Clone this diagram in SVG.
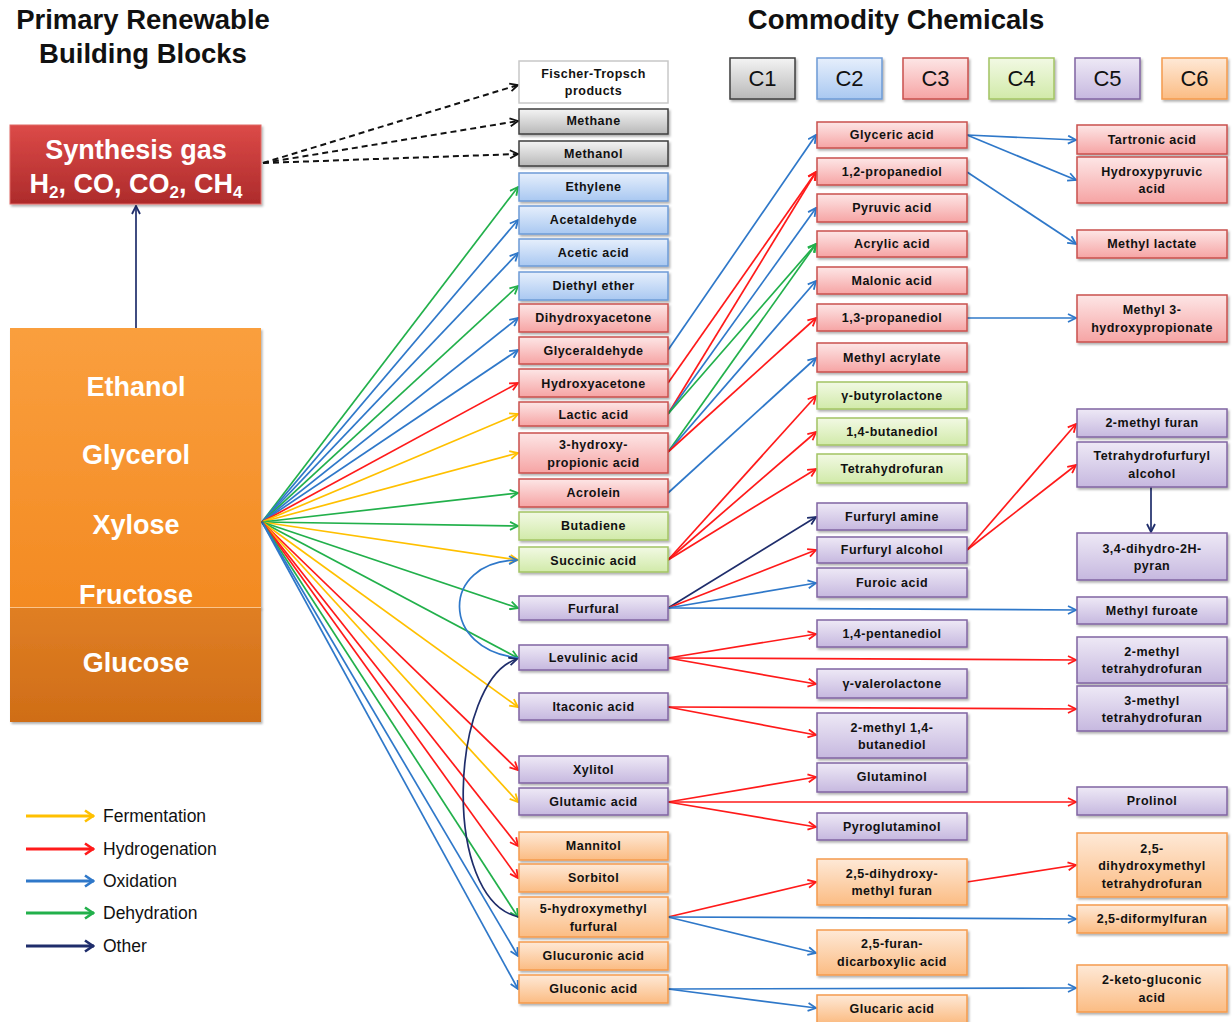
<svg xmlns="http://www.w3.org/2000/svg" width="1232" height="1022" viewBox="0 0 1232 1022">
<style>
.t{font-family:"Liberation Sans",Arial,sans-serif;font-weight:bold;font-size:12.5px;fill:#111;text-anchor:middle;letter-spacing:0.5px}
.title{font-family:"Liberation Sans",Arial,sans-serif;font-weight:bold;font-size:27.5px;fill:#111;text-anchor:middle}
.big{font-family:"Liberation Sans",Arial,sans-serif;font-weight:bold;font-size:27px;fill:#fff;text-anchor:middle}
.cl{font-family:"Liberation Sans",Arial,sans-serif;font-size:22px;fill:#111;text-anchor:middle}
.lg{font-family:"Liberation Sans",Arial,sans-serif;font-size:17.5px;fill:#111}
.b{stroke-width:1.5}
.gray{fill:url(#gGray);stroke:#3f3f3f}
.white{fill:#fff;stroke:#c8c8c8}
.blue{fill:url(#gBlue);stroke:#6d9bd6}
.pink{fill:url(#gPink);stroke:#c9504d}
.green{fill:url(#gGreen);stroke:#a3c463}
.purple{fill:url(#gPurple);stroke:#8064a2}
.orange{fill:url(#gOrange);stroke:#f59b4d}
.c{fill:none;stroke-width:1.7}
.lgc{fill:none;stroke-width:3}
.cy{stroke:#ffc000;marker-end:url(#mY)}
.cr{stroke:#ff1a1a;marker-end:url(#mR)}
.cb{stroke:#2f78c9;marker-end:url(#mB)}
.cg{stroke:#22b04b;marker-end:url(#mG)}
.cn{stroke:#1f2d6b;marker-end:url(#mN)}
.cd{stroke:#111;stroke-dasharray:6,4;stroke-width:2;marker-end:url(#mK)}
</style>
<defs>
<linearGradient id="gGray" x1="0" y1="0" x2="0" y2="1"><stop offset="0" stop-color="#f4f4f4"/><stop offset="1" stop-color="#b8b8b8"/></linearGradient>
<linearGradient id="gBlue" x1="0" y1="0" x2="0" y2="1"><stop offset="0" stop-color="#e6effc"/><stop offset="1" stop-color="#a9c8f1"/></linearGradient>
<linearGradient id="gPink" x1="0" y1="0" x2="0" y2="1"><stop offset="0" stop-color="#fde6e6"/><stop offset="1" stop-color="#f6a4a4"/></linearGradient>
<linearGradient id="gGreen" x1="0" y1="0" x2="0" y2="1"><stop offset="0" stop-color="#f2f9e4"/><stop offset="1" stop-color="#d1eaa9"/></linearGradient>
<linearGradient id="gPurple" x1="0" y1="0" x2="0" y2="1"><stop offset="0" stop-color="#eee9f6"/><stop offset="1" stop-color="#c6b8df"/></linearGradient>
<linearGradient id="gOrange" x1="0" y1="0" x2="0" y2="1"><stop offset="0" stop-color="#fee9d7"/><stop offset="1" stop-color="#fbbc83"/></linearGradient>
<linearGradient id="gSyn" x1="0" y1="0" x2="0" y2="1"><stop offset="0" stop-color="#dc4a48"/><stop offset="1" stop-color="#ad2b2b"/></linearGradient>
<linearGradient id="gOr1" x1="0" y1="0" x2="0" y2="1"><stop offset="0" stop-color="#fa9f3e"/><stop offset="1" stop-color="#f38a22"/></linearGradient>
<linearGradient id="gOr2" x1="0" y1="0" x2="0" y2="1"><stop offset="0" stop-color="#e07f24"/><stop offset="1" stop-color="#cf6d17"/></linearGradient>
<filter id="sh" x="-5%" y="-10%" width="115%" height="130%"><feDropShadow dx="1.5" dy="2" stdDeviation="1.2" flood-color="#000" flood-opacity="0.3"/></filter>
<marker id="mY" viewBox="0 0 10 10" refX="9" refY="5" markerWidth="10" markerHeight="10" markerUnits="userSpaceOnUse" orient="auto"><path d="M1,1 L9,5 L1,9" fill="none" stroke="#ffc000" stroke-width="1.8"/></marker>
<marker id="mR" viewBox="0 0 10 10" refX="9" refY="5" markerWidth="10" markerHeight="10" markerUnits="userSpaceOnUse" orient="auto"><path d="M1,1 L9,5 L1,9" fill="none" stroke="#ff1a1a" stroke-width="1.8"/></marker>
<marker id="mB" viewBox="0 0 10 10" refX="9" refY="5" markerWidth="10" markerHeight="10" markerUnits="userSpaceOnUse" orient="auto"><path d="M1,1 L9,5 L1,9" fill="none" stroke="#2f78c9" stroke-width="1.8"/></marker>
<marker id="mG" viewBox="0 0 10 10" refX="9" refY="5" markerWidth="10" markerHeight="10" markerUnits="userSpaceOnUse" orient="auto"><path d="M1,1 L9,5 L1,9" fill="none" stroke="#22b04b" stroke-width="1.8"/></marker>
<marker id="mN" viewBox="0 0 10 10" refX="9" refY="5" markerWidth="10" markerHeight="10" markerUnits="userSpaceOnUse" orient="auto"><path d="M1,1 L9,5 L1,9" fill="none" stroke="#1f2d6b" stroke-width="1.8"/></marker>
<marker id="mK" viewBox="0 0 10 10" refX="9" refY="5" markerWidth="10" markerHeight="10" markerUnits="userSpaceOnUse" orient="auto"><path d="M1,1 L9,5 L1,9" fill="none" stroke="#111" stroke-width="1.8"/></marker>
<marker id="LY" viewBox="0 0 12 14" refX="11" refY="7" markerWidth="12" markerHeight="14" markerUnits="userSpaceOnUse" orient="auto"><path d="M2,1.5 L10,7 L2,12.5" fill="none" stroke="#ffc000" stroke-width="2.6"/></marker>
<marker id="LR" viewBox="0 0 12 14" refX="11" refY="7" markerWidth="12" markerHeight="14" markerUnits="userSpaceOnUse" orient="auto"><path d="M2,1.5 L10,7 L2,12.5" fill="none" stroke="#ff1a1a" stroke-width="2.6"/></marker>
<marker id="LB" viewBox="0 0 12 14" refX="11" refY="7" markerWidth="12" markerHeight="14" markerUnits="userSpaceOnUse" orient="auto"><path d="M2,1.5 L10,7 L2,12.5" fill="none" stroke="#2f78c9" stroke-width="2.6"/></marker>
<marker id="LG" viewBox="0 0 12 14" refX="11" refY="7" markerWidth="12" markerHeight="14" markerUnits="userSpaceOnUse" orient="auto"><path d="M2,1.5 L10,7 L2,12.5" fill="none" stroke="#22b04b" stroke-width="2.6"/></marker>
<marker id="LN" viewBox="0 0 12 14" refX="11" refY="7" markerWidth="12" markerHeight="14" markerUnits="userSpaceOnUse" orient="auto"><path d="M2,1.5 L10,7 L2,12.5" fill="none" stroke="#1f2d6b" stroke-width="2.6"/></marker>
</defs>
<rect width="1232" height="1022" fill="#fff"/>

<text class="title" x="143" y="29">Primary Renewable</text>
<text class="title" x="143" y="63">Building Blocks</text>
<text class="title" x="896" y="29">Commodity Chemicals</text>

<g id="c-labels">
<g id="C1"><rect class="gray b" x="730" y="58" width="65" height="41" filter="url(#sh)"/><text class="cl" x="762.5" y="86">C1</text></g>
<g id="C2"><rect class="blue b" x="817" y="58" width="65" height="41" filter="url(#sh)"/><text class="cl" x="849.5" y="86">C2</text></g>
<g id="C3"><rect class="pink b" x="903" y="58" width="65" height="41" filter="url(#sh)"/><text class="cl" x="935.5" y="86">C3</text></g>
<g id="C4"><rect class="green b" x="989" y="58" width="65" height="41" filter="url(#sh)"/><text class="cl" x="1021.5" y="86">C4</text></g>
<g id="C5"><rect class="purple b" x="1075" y="58" width="65" height="41" filter="url(#sh)"/><text class="cl" x="1107.5" y="86">C5</text></g>
<g id="C6"><rect class="orange b" x="1162" y="58" width="65" height="41" filter="url(#sh)"/><text class="cl" x="1194.5" y="86">C6</text></g>
</g>

<g id="connectors">
<path class="c cn" d="M136,328 L136,206"/>
<path class="cd" fill="none" d="M263,163 L518,85"/>
<path class="cd" fill="none" d="M263,163 L518,121"/>
<path class="cd" fill="none" d="M263,163 L518,154"/>
<path class="c cg" d="M262,522 L518,187"/>
<path class="c cb" d="M262,522 L518,220"/>
<path class="c cb" d="M262,522 L518,253"/>
<path class="c cg" d="M262,522 L518,286"/>
<path class="c cb" d="M262,522 L518,318"/>
<path class="c cb" d="M262,522 L518,350"/>
<path class="c cr" d="M262,522 L518,383"/>
<path class="c cy" d="M262,522 L518,414"/>
<path class="c cy" d="M262,522 L518,453"/>
<path class="c cg" d="M262,522 L518,493"/>
<path class="c cg" d="M262,522 L518,526"/>
<path class="c cy" d="M262,522 L518,560"/>
<path class="c cg" d="M262,522 L518,608"/>
<path class="c cg" d="M262,522 L518,658"/>
<path class="c cy" d="M262,522 L518,707"/>
<path class="c cr" d="M262,522 L518,770"/>
<path class="c cy" d="M262,522 L518,802"/>
<path class="c cr" d="M262,522 L518,846"/>
<path class="c cr" d="M262,522 L518,878"/>
<path class="c cg" d="M262,522 L518,917"/>
<path class="c cb" d="M262,522 L518,956"/>
<path class="c cb" d="M262,522 L518,989"/>
<path class="c cb" d="M519,658 C440,650 440,562 517,560"/>
<path class="c cn" d="M519,917 C440,900 450,680 517,659"/>
<path class="c cb" d="M668,350 L816,135"/>
<path class="c cr" d="M668,383 L816,172"/>
<path class="c cr" d="M668,414 L816,172"/>
<path class="c cb" d="M668,414 L816,208"/>
<path class="c cg" d="M668,414 L816,244"/>
<path class="c cg" d="M668,452 L816,244"/>
<path class="c cb" d="M668,452 L816,281"/>
<path class="c cr" d="M668,452 L816,318"/>
<path class="c cb" d="M668,493 L816,358"/>
<path class="c cr" d="M668,560 L816,396"/>
<path class="c cr" d="M668,560 L816,432"/>
<path class="c cr" d="M668,560 L816,469"/>
<path class="c cn" d="M668,608 L816,517"/>
<path class="c cr" d="M668,608 L816,550"/>
<path class="c cb" d="M668,608 L816,583"/>
<path class="c cb" d="M668,608 L1076,610"/>
<path class="c cr" d="M668,658 L816,634"/>
<path class="c cr" d="M668,658 L1076,660"/>
<path class="c cr" d="M668,658 L816,684"/>
<path class="c cr" d="M668,707 L1076,709"/>
<path class="c cr" d="M668,707 L816,735"/>
<path class="c cr" d="M668,802 L816,777"/>
<path class="c cr" d="M668,802 L1076,802"/>
<path class="c cr" d="M668,802 L816,827"/>
<path class="c cr" d="M668,917 L816,882"/>
<path class="c cb" d="M668,917 L1076,919"/>
<path class="c cb" d="M668,917 L816,953"/>
<path class="c cb" d="M668,989 L1076,988"/>
<path class="c cb" d="M668,989 L816,1008"/>
<path class="c cb" d="M967,135 L1076,140"/>
<path class="c cb" d="M967,135 L1076,180"/>
<path class="c cb" d="M967,172 L1076,244"/>
<path class="c cb" d="M967,318 L1076,318"/>
<path class="c cr" d="M967,550 L1076,424"/>
<path class="c cr" d="M967,550 L1076,465"/>
<path class="c cn" d="M1151,487 L1151,532"/>
<path class="c cr" d="M967,882 L1076,865"/>
</g>

<g id="syngas"><rect x="10" y="125" width="251" height="79" fill="url(#gSyn)" stroke="#e06a66" stroke-width="1" filter="url(#sh)"/>
<text class="big" x="136" y="159">Synthesis gas</text>
<text class="big" x="136" y="193">H<tspan font-size="17" dy="5">2</tspan><tspan dy="-5">, CO, CO</tspan><tspan font-size="17" dy="5">2</tspan><tspan dy="-5">, CH</tspan><tspan font-size="17" dy="5">4</tspan></text></g>

<g id="building-blocks">
<rect x="10" y="328" width="251" height="280" fill="url(#gOr1)" filter="url(#sh)"/>
<rect x="10" y="607" width="251" height="115" fill="url(#gOr2)" filter="url(#sh)"/>
<line x1="10" y1="607.5" x2="261" y2="607.5" stroke="#fbc48a" stroke-width="1"/>
<text class="big" x="136" y="396">Ethanol</text>
<text class="big" x="136" y="464">Glycerol</text>
<text class="big" x="136" y="534">Xylose</text>
<text class="big" x="136" y="604">Fructose</text>
<text class="big" x="136" y="672">Glucose</text>
</g>

<g id="col1">
<g id="n-ft"><rect class="white b" x="519" y="61" width="149" height="42"/><text class="t" x="593.5" y="78">Fischer-Tropsch</text><text class="t" x="593.5" y="95">products</text></g>
<g id="n-methane"><rect class="gray b" x="519" y="109" width="149" height="25" filter="url(#sh)"/><text class="t" x="593.5" y="125">Methane</text></g>
<g id="n-methanol"><rect class="gray b" x="519" y="141" width="149" height="25" filter="url(#sh)"/><text class="t" x="593.5" y="158">Methanol</text></g>
<g id="n-ethylene"><rect class="blue b" x="519" y="173" width="149" height="28" filter="url(#sh)"/><text class="t" x="593.5" y="191">Ethylene</text></g>
<g id="n-acetaldehyde"><rect class="blue b" x="519" y="206" width="149" height="28" filter="url(#sh)"/><text class="t" x="593.5" y="224">Acetaldehyde</text></g>
<g id="n-aceticacid"><rect class="blue b" x="519" y="239" width="149" height="27" filter="url(#sh)"/><text class="t" x="593.5" y="257">Acetic acid</text></g>
<g id="n-diethylether"><rect class="blue b" x="519" y="272" width="149" height="28" filter="url(#sh)"/><text class="t" x="593.5" y="290">Diethyl ether</text></g>
<g id="n-dha"><rect class="pink b" x="519" y="304" width="149" height="28" filter="url(#sh)"/><text class="t" x="593.5" y="322">Dihydroxyacetone</text></g>
<g id="n-glyceraldehyde"><rect class="pink b" x="519" y="337" width="149" height="27" filter="url(#sh)"/><text class="t" x="593.5" y="355">Glyceraldehyde</text></g>
<g id="n-hydroxyacetone"><rect class="pink b" x="519" y="369" width="149" height="28" filter="url(#sh)"/><text class="t" x="593.5" y="388">Hydroxyacetone</text></g>
<g id="n-lactic"><rect class="pink b" x="519" y="402" width="149" height="24" filter="url(#sh)"/><text class="t" x="593.5" y="419">Lactic acid</text></g>
<g id="n-3hpa"><rect class="pink b" x="519" y="433" width="149" height="40" filter="url(#sh)"/><text class="t" x="593.5" y="449">3-hydroxy-</text><text class="t" x="593.5" y="467">propionic acid</text></g>
<g id="n-acrolein"><rect class="pink b" x="519" y="479" width="149" height="28" filter="url(#sh)"/><text class="t" x="593.5" y="497">Acrolein</text></g>
<g id="n-butadiene"><rect class="green b" x="519" y="512" width="149" height="28" filter="url(#sh)"/><text class="t" x="593.5" y="530">Butadiene</text></g>
<g id="n-succinic"><rect class="green b" x="519" y="547" width="149" height="25" filter="url(#sh)"/><text class="t" x="593.5" y="565">Succinic acid</text></g>
<g id="n-furfural"><rect class="purple b" x="519" y="596" width="149" height="24" filter="url(#sh)"/><text class="t" x="593.5" y="613">Furfural</text></g>
<g id="n-levulinic"><rect class="purple b" x="519" y="645" width="149" height="25" filter="url(#sh)"/><text class="t" x="593.5" y="662">Levulinic acid</text></g>
<g id="n-itaconic"><rect class="purple b" x="519" y="693" width="149" height="27" filter="url(#sh)"/><text class="t" x="593.5" y="711">Itaconic acid</text></g>
<g id="n-xylitol"><rect class="purple b" x="519" y="756" width="149" height="27" filter="url(#sh)"/><text class="t" x="593.5" y="774">Xylitol</text></g>
<g id="n-glutamic"><rect class="purple b" x="519" y="788" width="149" height="27" filter="url(#sh)"/><text class="t" x="593.5" y="806">Glutamic acid</text></g>
<g id="n-mannitol"><rect class="orange b" x="519" y="832" width="149" height="28" filter="url(#sh)"/><text class="t" x="593.5" y="850">Mannitol</text></g>
<g id="n-sorbitol"><rect class="orange b" x="519" y="864" width="149" height="28" filter="url(#sh)"/><text class="t" x="593.5" y="882">Sorbitol</text></g>
<g id="n-hmf"><rect class="orange b" x="519" y="897" width="149" height="40" filter="url(#sh)"/><text class="t" x="593.5" y="913">5-hydroxymethyl</text><text class="t" x="593.5" y="931">furfural</text></g>
<g id="n-glucuronic"><rect class="orange b" x="519" y="942" width="149" height="28" filter="url(#sh)"/><text class="t" x="593.5" y="960">Glucuronic acid</text></g>
<g id="n-gluconic"><rect class="orange b" x="519" y="975" width="149" height="28" filter="url(#sh)"/><text class="t" x="593.5" y="993">Gluconic acid</text></g>
</g>

<g id="col2">
<g id="n-glyceric"><rect class="pink b" x="817" y="122" width="150" height="26" filter="url(#sh)"/><text class="t" x="892" y="139">Glyceric acid</text></g>
<g id="n-12pdo"><rect class="pink b" x="817" y="158" width="150" height="27" filter="url(#sh)"/><text class="t" x="892" y="176">1,2-propanediol</text></g>
<g id="n-pyruvic"><rect class="pink b" x="817" y="194" width="150" height="28" filter="url(#sh)"/><text class="t" x="892" y="212">Pyruvic acid</text></g>
<g id="n-acrylic"><rect class="pink b" x="817" y="231" width="150" height="26" filter="url(#sh)"/><text class="t" x="892" y="248">Acrylic acid</text></g>
<g id="n-malonic"><rect class="pink b" x="817" y="267" width="150" height="27" filter="url(#sh)"/><text class="t" x="892" y="285">Malonic acid</text></g>
<g id="n-13pdo"><rect class="pink b" x="817" y="304" width="150" height="27" filter="url(#sh)"/><text class="t" x="892" y="322">1,3-propanediol</text></g>
<g id="n-macrylate"><rect class="pink b" x="817" y="343" width="150" height="29" filter="url(#sh)"/><text class="t" x="892" y="362">Methyl acrylate</text></g>
<g id="n-gbl"><rect class="green b" x="817" y="382" width="150" height="27" filter="url(#sh)"/><text class="t" x="892" y="400">γ-butyrolactone</text></g>
<g id="n-bdo"><rect class="green b" x="817" y="418" width="150" height="27" filter="url(#sh)"/><text class="t" x="892" y="436">1,4-butanediol</text></g>
<g id="n-thf"><rect class="green b" x="817" y="454" width="150" height="29" filter="url(#sh)"/><text class="t" x="892" y="473">Tetrahydrofuran</text></g>
<g id="n-famine"><rect class="purple b" x="817" y="503" width="150" height="27" filter="url(#sh)"/><text class="t" x="892" y="521">Furfuryl amine</text></g>
<g id="n-falcohol"><rect class="purple b" x="817" y="537" width="150" height="26" filter="url(#sh)"/><text class="t" x="892" y="554">Furfuryl alcohol</text></g>
<g id="n-furoic"><rect class="purple b" x="817" y="568" width="150" height="29" filter="url(#sh)"/><text class="t" x="892" y="587">Furoic acid</text></g>
<g id="n-14pedo"><rect class="purple b" x="817" y="620" width="150" height="27" filter="url(#sh)"/><text class="t" x="892" y="638">1,4-pentanediol</text></g>
<g id="n-gvl"><rect class="purple b" x="817" y="669" width="150" height="29" filter="url(#sh)"/><text class="t" x="892" y="688">γ-valerolactone</text></g>
<g id="n-2mbdo"><rect class="purple b" x="817" y="713" width="150" height="45" filter="url(#sh)"/><text class="t" x="892" y="732">2-methyl 1,4-</text><text class="t" x="892" y="749">butanediol</text></g>
<g id="n-glutaminol"><rect class="purple b" x="817" y="763" width="150" height="29" filter="url(#sh)"/><text class="t" x="892" y="781">Glutaminol</text></g>
<g id="n-pyroglutaminol"><rect class="purple b" x="817" y="813" width="150" height="27" filter="url(#sh)"/><text class="t" x="892" y="831">Pyroglutaminol</text></g>
<g id="n-bhmf"><rect class="orange b" x="817" y="859" width="150" height="46" filter="url(#sh)"/><text class="t" x="892" y="878">2,5-dihydroxy-</text><text class="t" x="892" y="895">methyl furan</text></g>
<g id="n-fdca"><rect class="orange b" x="817" y="930" width="150" height="45" filter="url(#sh)"/><text class="t" x="892" y="948">2,5-furan-</text><text class="t" x="892" y="966">dicarboxylic acid</text></g>
<g id="n-glucaric"><rect class="orange b" x="817" y="995" width="150" height="28" filter="url(#sh)"/><text class="t" x="892" y="1013">Glucaric acid</text></g>
</g>

<g id="col3">
<g id="n-tartronic"><rect class="pink b" x="1077" y="125" width="150" height="29" filter="url(#sh)"/><text class="t" x="1152" y="144">Tartronic acid</text></g>
<g id="n-hpyruvic"><rect class="pink b" x="1077" y="157" width="150" height="46" filter="url(#sh)"/><text class="t" x="1152" y="176">Hydroxypyruvic</text><text class="t" x="1152" y="193">acid</text></g>
<g id="n-mlactate"><rect class="pink b" x="1077" y="230" width="150" height="28" filter="url(#sh)"/><text class="t" x="1152" y="248">Methyl lactate</text></g>
<g id="n-m3hp"><rect class="pink b" x="1077" y="295" width="150" height="47" filter="url(#sh)"/><text class="t" x="1152" y="314">Methyl 3-</text><text class="t" x="1152" y="332">hydroxypropionate</text></g>
<g id="n-2mf"><rect class="purple b" x="1077" y="409" width="150" height="28" filter="url(#sh)"/><text class="t" x="1152" y="427">2-methyl furan</text></g>
<g id="n-thfa"><rect class="purple b" x="1077" y="442" width="150" height="45" filter="url(#sh)"/><text class="t" x="1152" y="460">Tetrahydrofurfuryl</text><text class="t" x="1152" y="478">alcohol</text></g>
<g id="n-dhp"><rect class="purple b" x="1077" y="533" width="150" height="47" filter="url(#sh)"/><text class="t" x="1152" y="553">3,4-dihydro-2H-</text><text class="t" x="1152" y="570">pyran</text></g>
<g id="n-mfuroate"><rect class="purple b" x="1077" y="597" width="150" height="27" filter="url(#sh)"/><text class="t" x="1152" y="615">Methyl furoate</text></g>
<g id="n-2mthf"><rect class="purple b" x="1077" y="637" width="150" height="46" filter="url(#sh)"/><text class="t" x="1152" y="656">2-methyl</text><text class="t" x="1152" y="673">tetrahydrofuran</text></g>
<g id="n-3mthf"><rect class="purple b" x="1077" y="686" width="150" height="45" filter="url(#sh)"/><text class="t" x="1152" y="705">3-methyl</text><text class="t" x="1152" y="722">tetrahydrofuran</text></g>
<g id="n-prolinol"><rect class="purple b" x="1077" y="787" width="150" height="28" filter="url(#sh)"/><text class="t" x="1152" y="805">Prolinol</text></g>
<g id="n-bhmthf"><rect class="orange b" x="1077" y="833" width="150" height="64" filter="url(#sh)"/><text class="t" x="1152" y="853">2,5-</text><text class="t" x="1152" y="870">dihydroxymethyl</text><text class="t" x="1152" y="888">tetrahydrofuran</text></g>
<g id="n-dff"><rect class="orange b" x="1077" y="905" width="150" height="28" filter="url(#sh)"/><text class="t" x="1152" y="923">2,5-diformylfuran</text></g>
<g id="n-2kga"><rect class="orange b" x="1077" y="965" width="150" height="47" filter="url(#sh)"/><text class="t" x="1152" y="984">2-keto-gluconic</text><text class="t" x="1152" y="1002">acid</text></g>
</g>

<g id="legend">
<path class="lgc" stroke="#ffc000" marker-end="url(#LY)" d="M26,816 L94,816"/><text class="lg" x="103" y="822">Fermentation</text>
<path class="lgc" stroke="#ff1a1a" marker-end="url(#LR)" d="M26,849 L94,849"/><text class="lg" x="103" y="855">Hydrogenation</text>
<path class="lgc" stroke="#2f78c9" marker-end="url(#LB)" d="M26,881 L94,881"/><text class="lg" x="103" y="887">Oxidation</text>
<path class="lgc" stroke="#22b04b" marker-end="url(#LG)" d="M26,913 L94,913"/><text class="lg" x="103" y="919">Dehydration</text>
<path class="lgc" stroke="#1f2d6b" marker-end="url(#LN)" d="M26,946 L94,946"/><text class="lg" x="103" y="952">Other</text>
</g>
</svg>
